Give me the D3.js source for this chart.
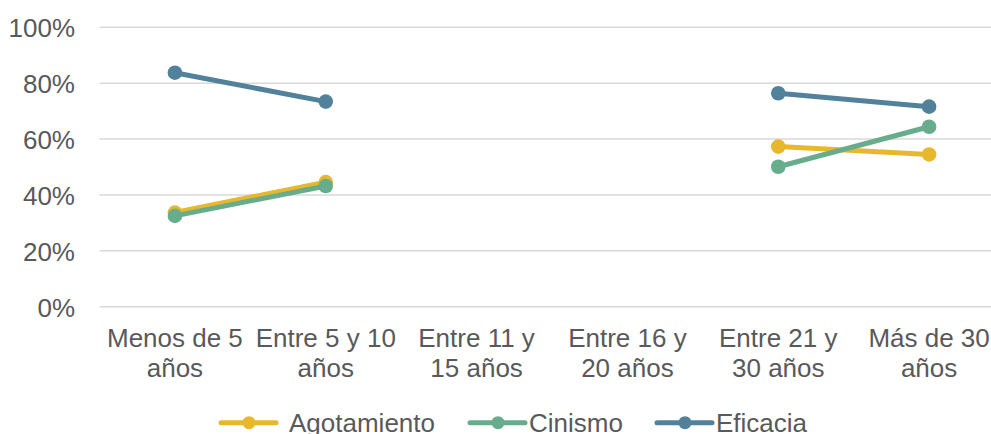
<!DOCTYPE html>
<html><head><meta charset="utf-8">
<script src="https://cdn.jsdelivr.net/npm/d3@7"></script>
<style>body{margin:0;background:#fff;overflow:hidden}svg{display:block}text{font-family:"Liberation Sans",Arial,sans-serif;fill:#595959}</style>
</head><body><svg id="c" width="991" height="434"></svg>
<script>
const categories = [["Menos de 5","años"],["Entre 5 y 10","años"],["Entre 11 y","15 años"],["Entre 16 y","20 años"],["Entre 21 y","30 años"],["Más de 30","años"]];
const agotamiento = [0.337, 0.446, null, null, 0.573, 0.545];
const cinismo = [0.325, 0.432, null, null, 0.501, 0.644];
const eficacia = [0.8375, 0.734, null, null, 0.764, 0.716];
const seriesNames = ["Agotamiento","Cinismo","Eficacia"];
const colors = ["#E8B82C","#67AD8D","#52829B"];
const yTicks = [0,0.2,0.4,0.6,0.8,1];
const series = [agotamiento, cinismo, eficacia];

const svg = d3.select("#c");
const x = d3.scaleBand().domain(d3.range(categories.length)).range([99.5, 1004.5]);
const y = d3.scaleLinear().domain([0,1]).range([306.7, 27.3]);

const grid = svg.append("g");
grid.selectAll("line").data(yTicks).join("line")
  .attr("x1",99.5).attr("x2",991).attr("y1",d=>y(d)).attr("y2",d=>y(d))
  .attr("stroke","#d9d9d9").attr("stroke-width",1.5);

const yAxis = d3.axisLeft(y).tickValues(yTicks).tickFormat(d3.format(".0%")).tickSize(0).tickPadding(0);
const ya = svg.append("g").attr("transform","translate(75,0)").call(yAxis);
ya.select(".domain").remove();
ya.selectAll("text").attr("font-size",26).attr("fill","#595959").attr("dy","0.36em").style("font-family",'"Liberation Sans",Arial,sans-serif');

const xa = svg.append("g");
categories.forEach((c,i)=>{
  const t = xa.append("text").attr("text-anchor","middle").attr("font-size",26)
    .attr("x", x(i)+x.bandwidth()/2);
  c.forEach((line,j)=>t.append("tspan").attr("x",x(i)+x.bandwidth()/2).attr("y",347.3+j*30).text(line));
});

const line = d3.line().defined(d=>d!=null).x((d,i)=>x(i)+x.bandwidth()/2).y(d=>y(d));
series.forEach((s,k)=>{
  const g = svg.append("g");
  g.append("path").attr("d",line(s)).attr("fill","none").attr("stroke",colors[k]).attr("stroke-width",5).attr("stroke-linecap","round");
  g.selectAll("circle").data(s.map((v,i)=>({v,i})).filter(d=>d.v!=null)).join("circle")
    .attr("cx",d=>x(d.i)+x.bandwidth()/2).attr("cy",d=>y(d.v)).attr("r",7.3).attr("fill",colors[k]);
});

const legX = [221, 470, 657];
const leg = svg.append("g");
seriesNames.forEach((n,k)=>{
  const g = leg.append("g");
  g.append("line").attr("x1",legX[k]).attr("x2",legX[k]+55).attr("y1",422.7).attr("y2",422.7)
    .attr("stroke",colors[k]).attr("stroke-width",5).attr("stroke-linecap","round");
  g.append("circle").attr("cx",legX[k]+28).attr("cy",422.7).attr("r",6.5).attr("fill",colors[k]);
  g.append("text").attr("x",legX[k]+(k===0?68:59)).attr("y",432).attr("font-size",26).text(n);
});
</script></body></html>
